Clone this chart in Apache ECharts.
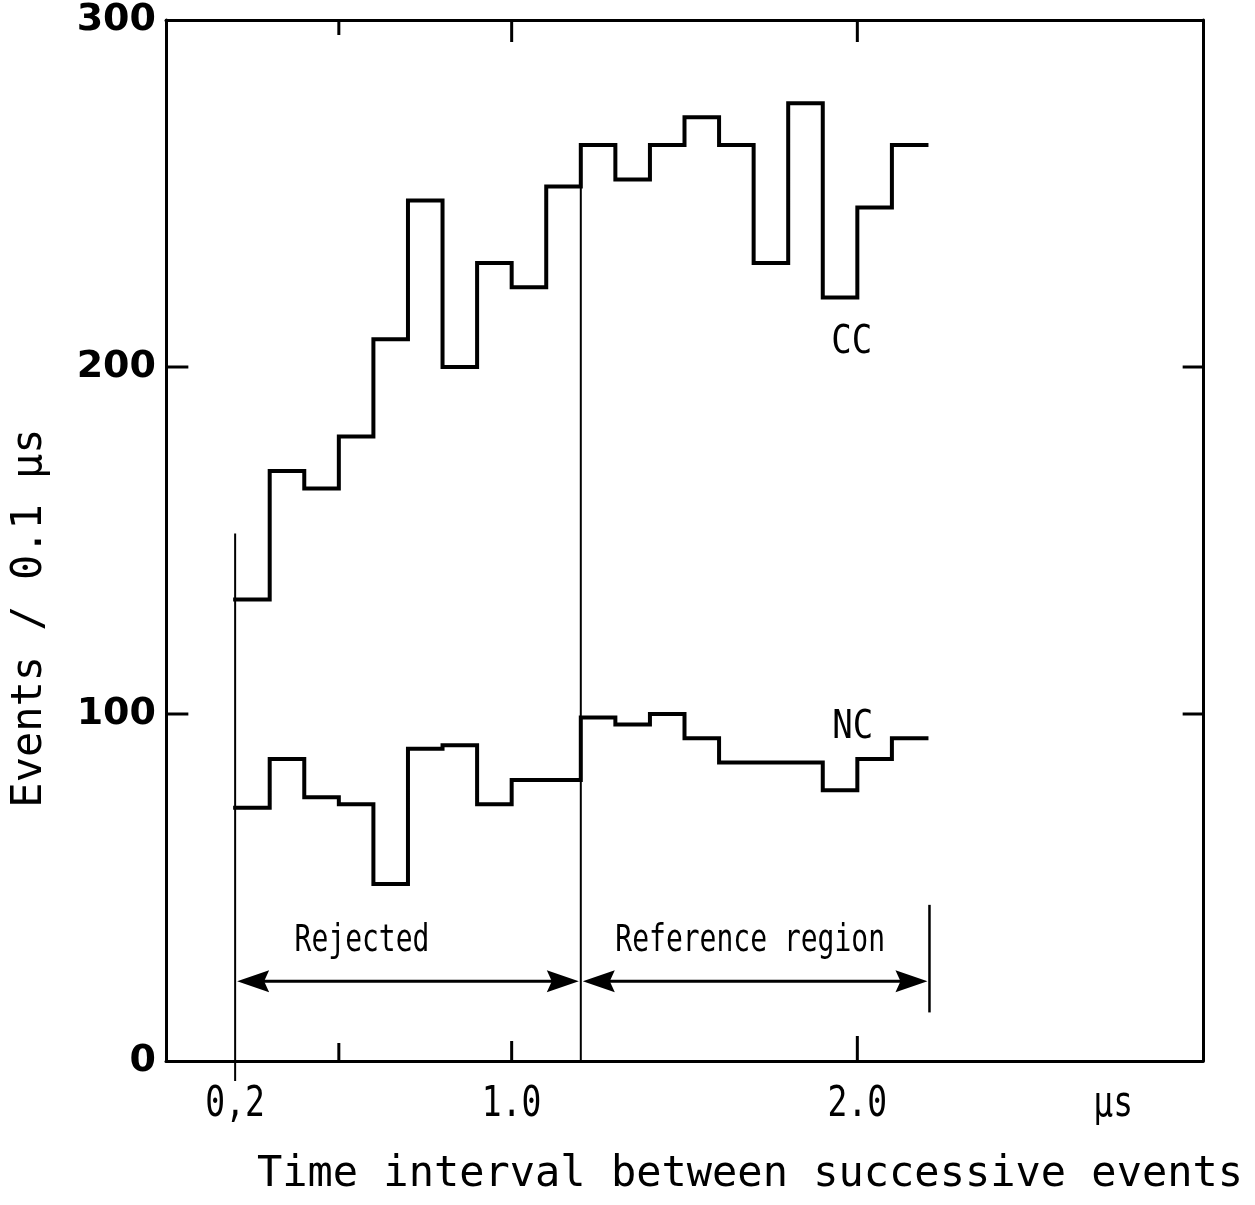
<!DOCTYPE html>
<html><head><meta charset="utf-8">
<script src="https://cdn.jsdelivr.net/npm/echarts@6/dist/echarts.min.js"></script>
<style>html,body{margin:0;padding:0;background:#fff}#chart{width:1255px;height:1205px}</style>
</head><body><div id="chart"></div>
<script>
// ---- data ----
const binStart = [0.2,0.3,0.4,0.5,0.6,0.7,0.8,0.9,1.0,1.1,1.2,1.3,1.4,1.5,1.6,1.7,1.8,1.9,2.0,2.1];
const binEndLast = 2.2;
const ccCounts = [133,170,165,180,208,248,200,230,223,252,264,254,264,272,264,230,276,220,246,264];
const ncCounts = [73,87,76,74,51,90,91,74,81,81,99,97,100,93,86,86,86,78,87,93];
const seriesNames = ['CC','NC'];
const xTickLabels = [[0.2,'0,2'],[1.0,'1.0'],[2.0,'2.0']];
const xUnitLabel = 'μs';
const xInnerTicks = [0.5,1.0,2.0];
const yInnerTicks = [100,200];
const regionEdges = [0.2,1.2,2.2];
const regionNames = ['Rejected','Reference region'];
const xTitle = 'Time interval between successive events';
const yTitle = 'Events / 0.1 μs';

function stepData(counts){
  const d = binStart.map((x,i)=>[x,counts[i]]);
  d.push([binEndLast, counts[counts.length-1]]);
  return d;
}

const MONO = 'DejaVu Sans Mono';
function renderDecor(params, api){
  const ch = [];
  const P = (x,y)=>api.coord([x,y]);
  const seg = (a,b,w)=>({type:'line', shape:{x1:a[0],y1:a[1],x2:b[0],y2:b[1]}, style:{stroke:'#000', lineWidth:w}});
  const txt = (s,p,size,sy)=>({type:'text', x:p[0], y:p[1], scaleY:sy, style:{text:s, fontFamily:MONO, fontSize:size, fill:'#000', align:'center', verticalAlign:'middle'}});
  // inward y ticks, left and right
  yInnerTicks.forEach(v=>{
    const l=P(0.001,v), r=P(2.999,v);
    ch.push(seg([l[0],l[1]],[l[0]+22,l[1]],3));
    ch.push(seg([r[0],r[1]],[r[0]-20,r[1]],3));
  });
  // inward x ticks, bottom and top
  const botLen=[18,20,25], topLen=[15,22,22];
  xInnerTicks.forEach((t,i)=>{
    const b=P(t,0), tp=P(t,300);
    ch.push(seg([b[0],b[1]],[b[0],b[1]-botLen[i]],3));
    ch.push(seg([tp[0],tp[1]],[tp[0],tp[1]+topLen[i]],3));
  });
  // x tick labels
  xTickLabels.forEach(([t,s])=>{ const p=P(t,0); ch.push(txt(s,[p[0],p[1]+44],33,1.3)); });
  { const p=P(2.74,0); ch.push(txt(xUnitLabel,[p[0],p[1]+44],33,1.3)); }
  // region boundary lines
  { const a=P(regionEdges[0],152), b=P(regionEdges[0],0); ch.push(seg(a,[b[0],b[1]+20],2)); }
  { const a=P(regionEdges[1],ccCounts[10]), b=P(regionEdges[1],0); ch.push(seg(a,b,2)); }
  { const a=P(regionEdges[2],45), b=P(regionEdges[2],14); a[0]+=3; b[0]+=3; ch.push(seg(a,b,2.5)); }
  // arrows
  const L=32, H=11;
  for(let i=0;i<2;i++){
    const a=P(regionEdges[i],23), b=P(regionEdges[i+1],23);
    a[0]+=2; b[0]-=2;
    if(i===1) b[0]+=3;
    ch.push(seg([a[0]+L-8,a[1]],[b[0]-L+8,b[1]],3));
    ch.push({type:'polygon', shape:{points:[[a[0],a[1]],[a[0]+L,a[1]-H],[a[0]+L-5,a[1]],[a[0]+L,a[1]+H]]}, style:{fill:'#000'}});
    ch.push({type:'polygon', shape:{points:[[b[0],b[1]],[b[0]-L,b[1]-H],[b[0]-L+5,b[1]],[b[0]-L,b[1]+H]]}, style:{fill:'#000'}});
  }
  ch.push(txt(regionNames[0],P(0.567,34.5),28,1.35));
  ch.push(txt(regionNames[1],P(1.69,34.5),28,1.35));
  // series labels
  ch.push(txt(seriesNames[0],P(1.984,207),34,1.15));
  ch.push(txt(seriesNames[1],P(1.987,96),34,1.15));
  return {type:'group', children:ch};
}

const chart = echarts.init(document.getElementById('chart'));
const axisLineStyle = {color:'#000', width:3};
chart.setOption({
  animation:false,
  backgroundColor:'#fff',
  grid:{left:166, right:52, top:20, bottom:144, containLabel:false},
  xAxis:[
    {type:'value', min:0, max:3, interval:0.1, position:'bottom',
     axisLine:{onZero:false, lineStyle:axisLineStyle}, axisTick:{show:false}, axisLabel:{show:false}, splitLine:{show:false}},
    {type:'value', min:0, max:3, interval:0.1, position:'top',
     axisLine:{show:true, onZero:false, lineStyle:axisLineStyle}, axisTick:{show:false}, axisLabel:{show:false}, splitLine:{show:false}}
  ],
  yAxis:[
    {type:'value', min:0, max:300, interval:100, position:'left',
     axisLine:{show:true, onZero:false, lineStyle:axisLineStyle},
     axisTick:{show:false},
     axisLabel:{color:'#000', fontFamily:'DejaVu Sans', fontWeight:'bold', fontSize:38, margin:10},
     splitLine:{show:false}},
    {type:'value', min:0, max:300, interval:100, position:'right',
     axisLine:{show:true, onZero:false, lineStyle:axisLineStyle},
     axisTick:{show:false},
     axisLabel:{show:false}, splitLine:{show:false}}
  ],
  graphic:[
    {type:'text', x:750, y:1175, style:{text:xTitle, font:'42px "DejaVu Sans Mono"', fill:'#000', align:'center', verticalAlign:'middle', textAlign:'center', textVerticalAlign:'middle'}},
    {type:'text', x:30, y:618, rotation:Math.PI/2, style:{text:yTitle, font:'42px "DejaVu Sans Mono"', fill:'#000', align:'center', verticalAlign:'middle', textAlign:'center', textVerticalAlign:'middle'}}
  ],
  series:[
    {name:seriesNames[0], type:'line', step:'end', data:stepData(ccCounts), symbol:'none',
     lineStyle:{color:'#000', width:4, join:'miter', cap:'square'}, z:3},
    {name:seriesNames[1], type:'line', step:'end', data:stepData(ncCounts), symbol:'none',
     lineStyle:{color:'#000', width:4, join:'miter', cap:'square'}, z:3},
    {type:'custom', data:[[0,0]], renderItem:renderDecor, clip:false, silent:true, z:4}
  ]
});
</script></body></html>
